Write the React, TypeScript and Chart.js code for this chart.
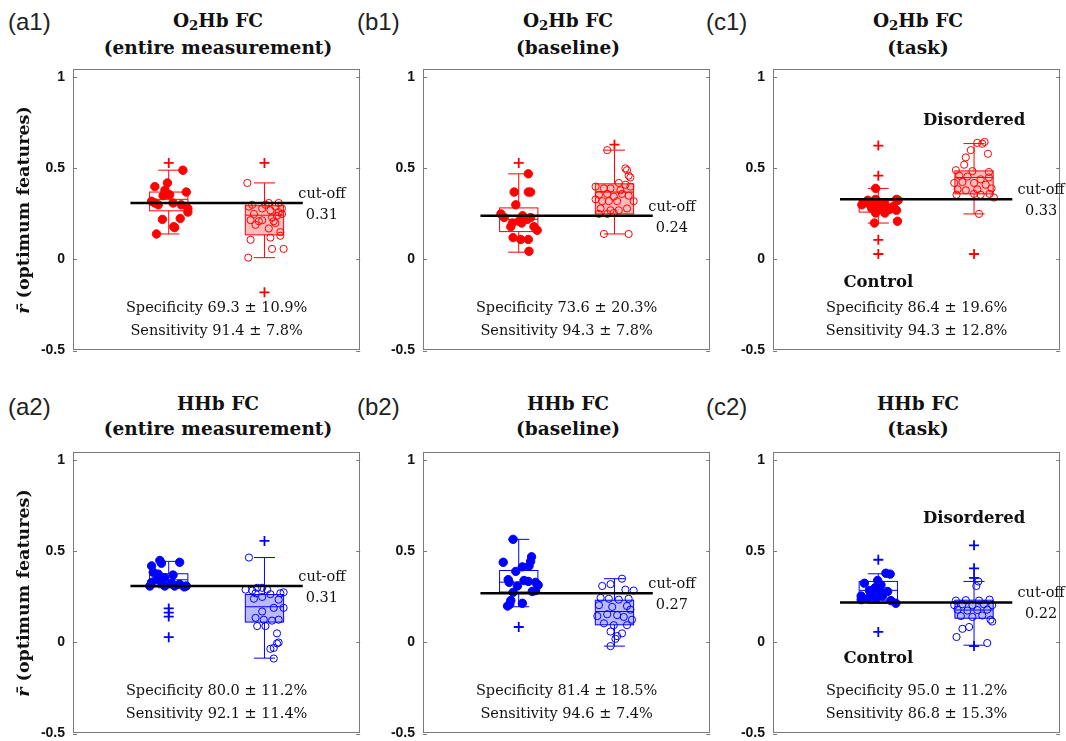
import React, { useEffect, useRef } from 'react';
import { Chart, registerables } from 'chart.js';

Chart.register(...registerables);

// ---------- shared ----------
const yTicks = [-0.5, 0, 0.5, 1];
const panelLabels = ['(a1)', '(b1)', '(c1)', '(a2)', '(b2)', '(c2)'];
const titleSpecies = ['O2Hb', 'O2Hb', 'O2Hb', 'HHb', 'HHb', 'HHb'];
const titleBottom = ['(entire measurement)', '(baseline)', '(task)', '(entire measurement)', '(baseline)', '(task)'];
const cutoffs = [0.31, 0.24, 0.33, 0.31, 0.27, 0.22];
const specificity = ['69.3 ± 10.9%', '73.6 ± 20.3%', '86.4 ± 19.6%', '80.0 ± 11.2%', '81.4 ± 18.5%', '95.0 ± 11.2%'];
const sensitivity = ['91.4 ± 7.8%', '94.3 ± 7.8%', '94.3 ± 12.8%', '92.1 ± 11.4%', '94.6 ± 7.4%', '86.8 ± 15.3%'];

// ---------- (a1) ----------
const a1CtrlR = [0.49, 0.40, 0.42, 0.37, 0.36, 0.355, 0.35, 0.32, 0.31, 0.30, 0.31, 0.28, 0.26, 0.22, 0.225, 0.18, 0.175, 0.14, 0.38, 0.30];
const a1CtrlDx = [0.148, -0.145, -0.014, 0.183, -0.024, 0.01, -0.059, -0.179, -0.145, -0.11, 0.045, 0.2, 0.2, -0.066, 0.12, 0.052, 0.062, -0.128, -0.04, 0.13];
const a1DisR = [0.42, 0.01, 0.108, 0.12, 0.13, 0.058, 0.058, 0.31, 0.31, 0.28, 0.29, 0.30, 0.28, 0.27, 0.24, 0.216, 0.21, 0.215, 0.21, 0.20, 0.15, 0.29, 0.19, 0.17, 0.26, 0.25, 0.30, 0.25, 0.23];
const a1DisDx = [-0.179, -0.169, -0.145, 0.062, 0.166, 0.079, 0.2, 0.045, 0.148, 0.183, 0.114, -0.128, -0.024, 0.062, 0.131, -0.145, -0.059, -0.024, 0.097, 0.114, 0.166, -0.162, -0.093, 0.045, 0.148, 0.183, 0.01, -0.11, 0.079];
const a1CtrlBox = [0.14, 0.267, 0.33, 0.37, 0.49];
const a1CtrlOut = [0.53];
const a1DisBox = [0.01, 0.135, 0.243, 0.295, 0.42];
const a1DisOut = [0.53, -0.18];

// ---------- (b1) ----------
const b1CtrlR = [0.47, 0.37, 0.37, 0.37, 0.30, 0.25, 0.23, 0.21, 0.22, 0.23, 0.20, 0.20, 0.18, 0.16, 0.12, 0.11, 0.11, 0.045, 0.18, 0.24];
const b1CtrlDx = [0.1, -0.048, 0.1, 0.124, -0.031, -0.186, -0.152, 0.003, 0.09, 0.124, -0.066, 0.031, 0.159, 0.193, -0.059, 0.021, 0.1, 0.107, -0.083, 0.04];
const b1DisR = [0.60, 0.50, 0.49, 0.46, 0.45, 0.42, 0.41, 0.40, 0.39, 0.39, 0.38, 0.40, 0.355, 0.36, 0.345, 0.36, 0.35, 0.33, 0.32, 0.32, 0.32, 0.32, 0.28, 0.27, 0.27, 0.28, 0.25, 0.25, 0.255, 0.14, 0.14];
const b1DisDx = [-0.076, 0.114, 0.131, 0.148, 0.166, 0.045, 0.114, -0.197, -0.11, -0.041, 0.062, 0.166, -0.162, -0.076, -0.007, 0.079, 0.148, -0.197, -0.128, -0.059, 0.028, 0.2, -0.145, -0.041, 0.045, 0.131, -0.162, -0.076, -0.007, -0.11, 0.148];
const b1CtrlBox = [0.04, 0.153, 0.22, 0.283, 0.47];
const b1CtrlOut = [0.53];
const b1DisBox = [0.14, 0.25, 0.37, 0.415, 0.60];
const b1DisOut = [0.63];

// ---------- (c1) ----------
const c1CtrlR = [0.39, 0.325, 0.33, 0.33, 0.325, 0.30, 0.30, 0.30, 0.305, 0.29, 0.28, 0.275, 0.275, 0.27, 0.255, 0.255, 0.20, 0.21];
const c1CtrlDx = [-0.028, -0.11, -0.028, 0.19, 0.207, -0.172, -0.086, 0, 0.069, 0.155, -0.069, 0.017, 0.121, 0.19, 0.069, -0.028, -0.041, 0.2];
const c1DisR = [0.64, 0.645, 0.635, 0.60, 0.58, 0.56, 0.52, 0.49, 0.485, 0.48, 0.46, 0.455, 0.44, 0.45, 0.42, 0.425, 0.42, 0.41, 0.385, 0.38, 0.385, 0.39, 0.355, 0.36, 0.355, 0.36, 0.34, 0.25];
const c1DisDx = [0.034, 0.11, 0.086, -0.034, 0.145, -0.086, -0.103, -0.19, -0.017, 0.155, -0.155, -0.069, 0.069, 0.155, -0.207, -0.121, 0, 0.121, -0.172, -0.086, 0.034, 0.183, -0.183, 0, 0.069, 0.162, 0.207, 0.052];
const c1CtrlBox = [0.20, 0.26, 0.29, 0.324, 0.39];
const c1CtrlOut = [0.625, 0.46, 0.108, 0.03];
const c1DisBox = [0.25, 0.36, 0.45, 0.486, 0.636];
const c1DisOut = [0.03];

// ---------- (a2) ----------
const a2CtrlR = [0.45, 0.44, 0.42, 0.435, 0.385, 0.375, 0.37, 0.355, 0.345, 0.33, 0.33, 0.325, 0.32, 0.31, 0.31, 0.31, 0.31, 0.305];
const a2CtrlDx = [-0.093, 0.114, -0.179, -0.076, -0.162, -0.11, 0.045, -0.041, -0.128, -0.179, -0.076, 0.028, 0.114, 0.183, -0.197, -0.041, 0.062, 0.162];
const a2DisR = [0.466, 0.30, 0.30, 0.29, 0.285, 0.29, 0.27, 0.275, 0.265, 0.27, 0.24, 0.25, 0.235, 0.19, 0.19, 0.17, 0.135, 0.125, 0.12, 0.125, 0.09, 0.09, 0.05, 0.0, -0.005, -0.03, -0.035, -0.088];
const a2DisDx = [-0.162, -0.076, -0.024, -0.197, -0.128, 0.028, 0.166, 0.2, 0.062, -0.093, -0.11, -0.024, 0.148, 0.2, 0.097, -0.024, -0.093, -0.007, 0.079, 0.148, -0.076, 0.01, 0.131, 0.148, 0.131, 0.097, 0.062, 0.097];
const a2CtrlBox = [0.30, 0.305, 0.344, 0.377, 0.445];
const a2CtrlOut = [0.187, 0.164, 0.142, 0.029];
const a2DisBox = [-0.086, 0.112, 0.196, 0.263, 0.466];
const a2DisOut = [0.557];

// ---------- (b2) ----------
const b2CtrlR = [0.566, 0.47, 0.445, 0.44, 0.415, 0.39, 0.42, 0.345, 0.33, 0.34, 0.335, 0.33, 0.315, 0.31, 0.275, 0.28, 0.285, 0.23, 0.215, 0.20, 0.21];
const b2CtrlDx = [-0.059, 0.134, 0.124, -0.162, 0.038, -0.031, 0.107, -0.11, -0.1, 0.055, 0.1, 0.176, 0.203, -0.014, -0.059, 0.141, 0.176, -0.083, 0.038, -0.117, -0.093];
const b2DisR = [0.35, 0.31, 0.32, 0.29, 0.285, 0.245, 0.24, 0.235, 0.24, 0.205, 0.195, 0.20, 0.18, 0.145, 0.155, 0.15, 0.14, 0.125, 0.105, 0.095, 0.095, 0.06, 0.05, 0.035, 0.02, -0.02];
const b2DisDx = [0.079, -0.128, -0.041, 0.114, 0.2, -0.145, -0.059, 0.045, 0.148, -0.162, -0.024, 0.131, 0.166, -0.179, -0.076, 0.028, 0.097, 0.183, -0.11, -0.007, 0.131, -0.041, 0.079, 0.028, 0.01, -0.041];
const b2CtrlBox = [0.196, 0.277, 0.331, 0.395, 0.566];
const b2CtrlOut = [0.085];
const b2DisBox = [-0.02, 0.097, 0.17, 0.232, 0.35];
const b2DisOut: number[] = [];

// ---------- (c2) ----------
const c2CtrlR = [0.38, 0.375, 0.34, 0.325, 0.315, 0.30, 0.285, 0.285, 0.28, 0.255, 0.255, 0.255, 0.24, 0.235, 0.24, 0.23, 0.215, 0.27];
const c2CtrlDx = [0.079, 0.124, -0.007, -0.145, 0.028, -0.034, -0.093, 0.01, 0.097, -0.179, -0.059, 0.045, -0.024, -0.179, -0.11, 0.131, 0.183, -0.076];
const c2DisR = [0.335, 0.31, 0.23, 0.232, 0.23, 0.235, 0.205, 0.21, 0.205, 0.21, 0.205, 0.18, 0.175, 0.178, 0.18, 0.145, 0.14, 0.148, 0.125, 0.115, 0.085, 0.075, 0.03, -0.003];
const c2DisDx = [0.045, 0.024, -0.19, -0.086, 0.052, 0.162, -0.207, -0.121, -0.017, 0.103, 0.19, -0.172, -0.069, 0.034, 0.138, -0.138, -0.017, 0.086, 0.172, 0.19, -0.052, -0.121, -0.183, 0.138];
const c2CtrlBox = [0.215, 0.232, 0.286, 0.335, 0.377];
const c2CtrlOut = [0.454, 0.058];
const c2DisBox = [-0.015, 0.133, 0.178, 0.232, 0.335];
const c2DisOut = [0.533, 0.407, 0.355, -0.02];

// ---------- layout / styling ----------
const RED = '#ff0000';
const BLUE = '#0000ff';
const RED_FILL = 'rgba(255,0,0,0.27)';
const BLUE_FILL = 'rgba(0,0,255,0.27)';
const PLOT_W = 290;
const PLOT_H = 286;
const AXIS_W = 45;
const PAD_T = 14;
const PAD_B = 14;
const PAD_R = 4;
const SERIF = '"DejaVu Serif", serif';
const SANS = '"Liberation Sans", Arial, sans-serif';

type Group = { r: number[]; dx: number[]; box: number[]; out: number[] };
type PanelCfg = {
  idx: number; left: number; top: number; xmin: number;
  color: string; fill: string; ctrl: Group; dis: Group; groupLabels: boolean; labelY: [number, number];
};

const colLeft = [73, 423, 773];
const rowTop = [67, 450];

const panels: PanelCfg[] = [
  { idx: 0, left: colLeft[0], top: rowTop[0], xmin: 0, color: RED, fill: RED_FILL, ctrl: { r: a1CtrlR, dx: a1CtrlDx, box: a1CtrlBox, out: a1CtrlOut }, dis: { r: a1DisR, dx: a1DisDx, box: a1DisBox, out: a1DisOut }, groupLabels: false, labelY: [0, 0] },
  { idx: 1, left: colLeft[1], top: rowTop[0], xmin: 0, color: RED, fill: RED_FILL, ctrl: { r: b1CtrlR, dx: b1CtrlDx, box: b1CtrlBox, out: b1CtrlOut }, dis: { r: b1DisR, dx: b1DisDx, box: b1DisBox, out: b1DisOut }, groupLabels: false, labelY: [0, 0] },
  { idx: 2, left: colLeft[2], top: rowTop[0], xmin: -0.1, color: RED, fill: RED_FILL, ctrl: { r: c1CtrlR, dx: c1CtrlDx, box: c1CtrlBox, out: c1CtrlOut }, dis: { r: c1DisR, dx: c1DisDx, box: c1DisBox, out: c1DisOut }, groupLabels: true, labelY: [-0.13, 0.76] },
  { idx: 3, left: colLeft[0], top: rowTop[1], xmin: 0, color: BLUE, fill: BLUE_FILL, ctrl: { r: a2CtrlR, dx: a2CtrlDx, box: a2CtrlBox, out: a2CtrlOut }, dis: { r: a2DisR, dx: a2DisDx, box: a2DisBox, out: a2DisOut }, groupLabels: false, labelY: [0, 0] },
  { idx: 4, left: colLeft[1], top: rowTop[1], xmin: 0, color: BLUE, fill: BLUE_FILL, ctrl: { r: b2CtrlR, dx: b2CtrlDx, box: b2CtrlBox, out: b2CtrlOut }, dis: { r: b2DisR, dx: b2DisDx, box: b2DisBox, out: b2DisOut }, groupLabels: false, labelY: [0, 0] },
  { idx: 5, left: colLeft[2], top: rowTop[1], xmin: -0.1, color: BLUE, fill: BLUE_FILL, ctrl: { r: c2CtrlR, dx: c2CtrlDx, box: c2CtrlBox, out: c2CtrlOut }, dis: { r: c2DisR, dx: c2DisDx, box: c2DisBox, out: c2DisOut }, groupLabels: true, labelY: [-0.09, 0.68] },
];

function Panel({ cfg }: { cfg: PanelCfg }) {
  const ref = useRef<HTMLCanvasElement>(null);
  const cw = AXIS_W + PLOT_W + PAD_R;
  const ch = PAD_T + PLOT_H + PAD_B;

  useEffect(() => {
    if (!ref.current) return;
    const { color, fill, ctrl, dis, idx, xmin } = cfg;
    const cut = cutoffs[idx];

    const drawBox = (chart: any, center: number, b: number[], filled: boolean) => {
      const { ctx, scales } = chart;
      const x = scales.x, y = scales.y;
      const [lo, q1, med, q3, hi] = b;
      const xl = x.getPixelForValue(center - 0.2);
      const xr = x.getPixelForValue(center + 0.2);
      const xc = x.getPixelForValue(center);
      const cw2 = x.getPixelForValue(center + 0.11) - xc;
      const yq1 = y.getPixelForValue(q1), yq3 = y.getPixelForValue(q3);
      const ym = y.getPixelForValue(med), ylo = y.getPixelForValue(lo), yhi = y.getPixelForValue(hi);
      ctx.save();
      ctx.strokeStyle = color;
      ctx.lineWidth = 1;
      if (filled) {
        ctx.fillStyle = fill;
        ctx.fillRect(xl, yq3, xr - xl, yq1 - yq3);
      }
      ctx.strokeRect(xl, yq3, xr - xl, yq1 - yq3);
      ctx.beginPath();
      ctx.moveTo(xl, ym); ctx.lineTo(xr, ym);
      ctx.moveTo(xc, yq3); ctx.lineTo(xc, yhi);
      ctx.moveTo(xc, yq1); ctx.lineTo(xc, ylo);
      ctx.moveTo(xc - cw2, yhi); ctx.lineTo(xc + cw2, yhi);
      ctx.moveTo(xc - cw2, ylo); ctx.lineTo(xc + cw2, ylo);
      ctx.stroke();
      ctx.restore();
    };

    const custom = {
      id: 'custom' + idx,
      beforeDatasetsDraw(chart: any) {
        drawBox(chart, 1, ctrl.box, false);
        drawBox(chart, 2, dis.box, true);
      },
      afterDatasetsDraw(chart: any) {
        const { ctx, chartArea: a, scales } = chart;
        const x = scales.x, y = scales.y;
        ctx.save();
        // frame
        ctx.strokeStyle = '#7a7a7a';
        ctx.lineWidth = 1;
        ctx.strokeRect(Math.round(a.left) + 0.5, Math.round(a.top) + 0.5, Math.round(a.right - a.left) - 1, Math.round(a.bottom - a.top) - 1);
        ctx.beginPath();
        for (const t of yTicks) {
          const py = Math.round(y.getPixelForValue(t)) + 0.5;
          ctx.moveTo(a.left, py); ctx.lineTo(a.left + 4, py);
          ctx.moveTo(a.right - 4, py); ctx.lineTo(a.right, py);
        }
        ctx.stroke();
        // texts
        ctx.fillStyle = '#111';
        ctx.textAlign = 'center';
        ctx.textBaseline = 'middle';
        ctx.font = `14.5px ${SERIF}`;
        const cx = x.getPixelForValue(2.6 + (xmin < 0 ? 0.1 : 0));
        const cy = y.getPixelForValue(cut);
        ctx.fillText('cut-off', cx, cy - 9);
        ctx.fillText(cut.toFixed(2), cx, cy + 12);
        const mx = (a.left + a.right) / 2;
        ctx.fillText('Specificity ' + specificity[idx], mx, y.getPixelForValue(-0.265));
        ctx.fillText('Sensitivity ' + sensitivity[idx], mx, y.getPixelForValue(-0.395));
        if (cfg.groupLabels) {
          ctx.font = `bold 16.5px ${SERIF}`;
          ctx.fillText('Control', x.getPixelForValue(1), y.getPixelForValue(cfg.labelY[0]));
          ctx.fillText('Disordered', x.getPixelForValue(2), y.getPixelForValue(cfg.labelY[1]));
        }
        ctx.restore();
      },
    };

    const pts = (g: Group, c: number) => g.r.map((v, i) => ({ x: c + g.dx[i], y: v }));
    const outs = [
      ...ctrl.out.map((v) => ({ x: 1, y: v })),
      ...dis.out.map((v) => ({ x: 2, y: v })),
    ];

    const chart = new Chart(ref.current, {
      type: 'scatter',
      data: {
        datasets: [
          {
            type: 'line',
            label: 'cut-off',
            data: [{ x: 0.6, y: cut }, { x: 2.4, y: cut }],
            borderColor: '#000',
            borderWidth: 2.5,
            pointRadius: 0,
            showLine: true,
            fill: false,
          } as any,
          {
            label: 'outliers',
            data: outs,
            pointStyle: 'cross',
            pointRadius: 5,
            borderWidth: 1.8,
            borderColor: color,
            backgroundColor: color,
          },
          {
            label: 'Control',
            data: pts(ctrl, 1),
            pointStyle: 'circle',
            pointRadius: 4.2,
            borderWidth: 1,
            borderColor: color,
            backgroundColor: color,
          },
          {
            label: 'Disordered',
            data: pts(dis, 2),
            pointStyle: 'circle',
            pointRadius: 3.6,
            borderWidth: 1,
            borderColor: color,
            backgroundColor: 'rgba(255,255,255,0)',
          },
        ],
      },
      options: {
        responsive: false,
        animation: false,
        events: [],
        layout: { padding: { left: 0, right: PAD_R, top: PAD_T, bottom: PAD_B } },
        plugins: { legend: { display: false }, tooltip: { enabled: false }, title: { display: false } },
        scales: {
          x: { type: 'linear', min: xmin, max: xmin + 3, display: false },
          y: {
            type: 'linear',
            min: -0.5,
            max: 1.043,
            afterFit: (s: any) => { s.width = AXIS_W; },
            afterBuildTicks: (s: any) => { s.ticks = yTicks.map((v) => ({ value: v })); },
            ticks: {
              padding: 8,
              color: '#111',
              font: { family: SANS, size: 14, weight: 'bold' },
              callback: (v: any) => String(v),
            },
            grid: { display: false, drawTicks: false },
            border: { display: false },
          },
        },
      } as any,
      plugins: [custom],
    });
    return () => chart.destroy();
  }, [cfg]);

  return (
    <canvas
      ref={ref}
      width={cw}
      height={ch}
      style={{ position: 'absolute', left: cfg.left - AXIS_W, top: cfg.top - PAD_T, width: cw, height: ch }}
    />
  );
}

function Species({ name }: { name: string }) {
  if (name.startsWith('O2')) {
    return (
      <span>
        O<span style={{ fontSize: '0.72em', position: 'relative', top: '0.3em' }}>2</span>Hb
      </span>
    );
  }
  return <span>{name}</span>;
}

export default function App() {
  const titleTops = [7.5, 391];
  const labelTops = [6, 391];
  return (
    <div style={{ position: 'absolute', left: 0, top: 0, width: 1066, height: 741, background: '#fff', overflow: 'hidden' }}>
      {panels.map((p) => {
        const row = p.idx < 3 ? 0 : 1;
        const col = p.idx % 3;
        return (
          <React.Fragment key={p.idx}>
            <div style={{ position: 'absolute', left: 8 + col * 349, top: labelTops[row], fontFamily: SANS, fontSize: 24, lineHeight: '32px', color: '#222' }}>
              {panelLabels[p.idx]}
            </div>
            <div style={{ position: 'absolute', left: p.left - 30, width: PLOT_W + 60, top: titleTops[row], textAlign: 'center', fontFamily: SERIF, fontWeight: 'bold', fontSize: 18.5, lineHeight: '25px', color: '#111' }}>
              <div><Species name={titleSpecies[p.idx]} /> FC</div>
              <div>{titleBottom[p.idx]}</div>
            </div>
            <Panel cfg={p} />
          </React.Fragment>
        );
      })}
      {[0, 1].map((row) => (
        <div key={'yl' + row} style={{ position: 'absolute', left: 23 - 150, top: rowTop[row] + PLOT_H / 2 - 12, width: 300, height: 24, lineHeight: '24px', textAlign: 'center', transform: 'rotate(-90deg)', fontFamily: SERIF, fontWeight: 'bold', fontSize: 17.5, color: '#111', whiteSpace: 'nowrap' }}>
          <i>r̄</i> (optimum features)
        </div>
      ))}
    </div>
  );
}
